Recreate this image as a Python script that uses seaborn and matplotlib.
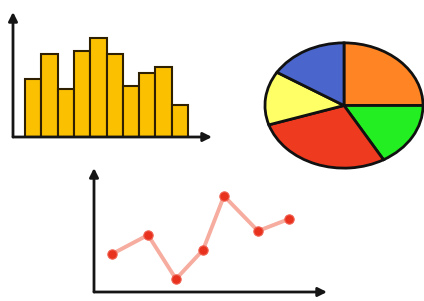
import matplotlib
matplotlib.use('Agg')
import seaborn as sns
import matplotlib.pyplot as plt

# bar chart (heights)
bar_cats = list(range(10))
bar_vals = [58, 83, 48, 86, 99, 83, 51, 64, 70, 32]

# pie chart slices, clockwise from the top
pie_vals = [90, 60, 102, 50, 58]
pie_colors = ['#FF8424', '#22EE22', '#EE3A1E', '#FFFF66', '#4A66CC']

# line chart points
line_x = [18, 54, 82, 109, 130, 164, 195]
line_y = [38, 57, 13, 42, 96, 61, 73]

sns.set_style('white')
W, H = 424, 301
fig = plt.figure(figsize=(W / 100, H / 100), dpi=100)
fig.patch.set_facecolor('white')


def px_axes(x0, y0, x1, y1):
    # pixel box (top-left origin) -> figure axes
    ax = fig.add_axes([x0 / W, (H - y1) / H, (x1 - x0) / W, (y1 - y0) / H])
    ax.patch.set_alpha(0)
    return ax


def arrows(ax):
    kw = dict(arrowstyle='-|>', lw=2, color='#151515', mutation_scale=13, shrinkA=0, shrinkB=0)
    ax.annotate('', xy=(0, 1), xytext=(0, 0), xycoords='axes fraction', arrowprops=kw)
    ax.annotate('', xy=(1, 0), xytext=(0, 0), xycoords='axes fraction', arrowprops=kw)
    for s in ax.spines.values():
        s.set_visible(False)
    ax.set_xticks([])
    ax.set_yticks([])
    ax.set_xlabel('')
    ax.set_ylabel('')


# bars
ax1 = px_axes(13, 12, 212, 137)
sns.barplot(x=bar_cats, y=bar_vals, color='#FBC000', width=1, saturation=1,
            edgecolor='#2e2000', linewidth=1.5, ax=ax1)
ax1.set_xlim(-1.236, 10.97)
ax1.set_ylim(0, 125)
arrows(ax1)

# pie
ax2 = px_axes(263, 41, 425, 170)
ax2.pie(pie_vals, colors=pie_colors, startangle=90, counterclock=False,
        wedgeprops=dict(edgecolor='#111111', linewidth=2))
ax2.set_aspect('auto')
ax2.set_xlim(-1.025, 1.025)
ax2.set_ylim(-1.03, 1.03)
ax2.axis('off')

# line
ax3 = px_axes(94, 168, 327, 292)
sns.lineplot(x=line_x, y=line_y, color='#F6AC9E', lw=2.8, ax=ax3)
sns.scatterplot(x=line_x, y=line_y, color='#E8321E', s=45, edgecolor='#F06050',
                linewidth=0.8, zorder=3, ax=ax3)
ax3.set_xlim(0, 233)
ax3.set_ylim(0, 124)
arrows(ax3)

fig.savefig('out.png', dpi=100)
